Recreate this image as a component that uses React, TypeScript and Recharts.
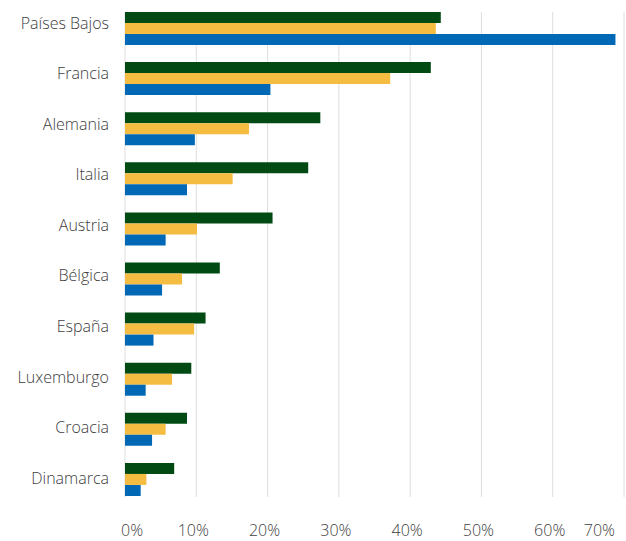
import { BarChart, Bar, XAxis, YAxis, CartesianGrid } from 'recharts';

const countries = [
  'Países Bajos',
  'Francia',
  'Alemania',
  'Italia',
  'Austria',
  'Bélgica',
  'España',
  'Luxemburgo',
  'Croacia',
  'Dinamarca',
];

// three series, in percent
const greenValues = [44.3, 42.9, 27.4, 25.7, 20.7, 13.3, 11.3, 9.3, 8.7, 6.9];
const yellowValues = [43.6, 37.2, 17.4, 15.1, 10.1, 8.0, 9.7, 6.6, 5.7, 3.0];
const blueValues = [68.8, 20.4, 9.8, 8.7, 5.7, 5.2, 4.0, 2.9, 3.8, 2.2];

const xTicks = [0, 10, 20, 30, 40, 50, 60, 70];

const data = countries.map((name, i) => ({
  name,
  green: greenValues[i],
  yellow: yellowValues[i],
  blue: blueValues[i],
}));

const FONT = '"Open Sans", sans-serif';
const TEXT = '#404040';

interface TickProps {
  x?: number;
  y?: number;
  index?: number;
  payload?: { value: number | string };
}

function XTick({ x = 0, y = 0, index = 0, payload }: TickProps) {
  const last = index === xTicks.length - 1;
  const first = index === 0;
  const anchor = first ? 'start' : last ? 'end' : 'middle';
  const dx = first ? -4 : -3;
  return (
    <text
      x={x + dx}
      y={y + 24}
      textAnchor={anchor}
      fill={TEXT}
      fontSize={16}
      fontWeight={300}
      fontFamily={FONT}
    >
      {`${payload?.value}%`}
    </text>
  );
}

// labels sit a little above their bars, more so near the top
function YTick({ x = 0, y = 0, index = 0, payload }: TickProps) {
  const shift = -5 + index * 0.45;
  return (
    <text
      x={x}
      y={y + shift}
      dy="0.355em"
      textAnchor="end"
      fill={TEXT}
      fontSize={16}
      fontWeight={300}
      fontFamily={FONT}
    >
      {payload?.value}
    </text>
  );
}

export default function App() {
  return (
    <div style={{ position: 'absolute', left: 0, top: 0, width: 626, height: 541, background: '#fff' }}>
      <BarChart
        width={626}
        height={541}
        data={data}
        layout="vertical"
        margin={{ top: 3, right: 2, left: 0, bottom: 0 }}
        barCategoryGap="18%"
        barGap={0}
      >
        <CartesianGrid horizontal={false} stroke="#dedede" y={12} height={485} />
        <XAxis
          type="number"
          domain={[0, 70]}
          ticks={xTicks}
          axisLine={false}
          tickLine={false}
          height={37}
          tick={<XTick />}
        />
        <YAxis
          type="category"
          dataKey="name"
          width={125}
          axisLine={false}
          tickLine={false}
          tickMargin={10}
          tick={<YTick />}
        />
        <Bar dataKey="green" fill="#024A14" isAnimationActive={false} />
        <Bar dataKey="yellow" fill="#F5BC42" isAnimationActive={false} />
        <Bar dataKey="blue" fill="#0068B5" isAnimationActive={false} />
      </BarChart>
    </div>
  );
}
